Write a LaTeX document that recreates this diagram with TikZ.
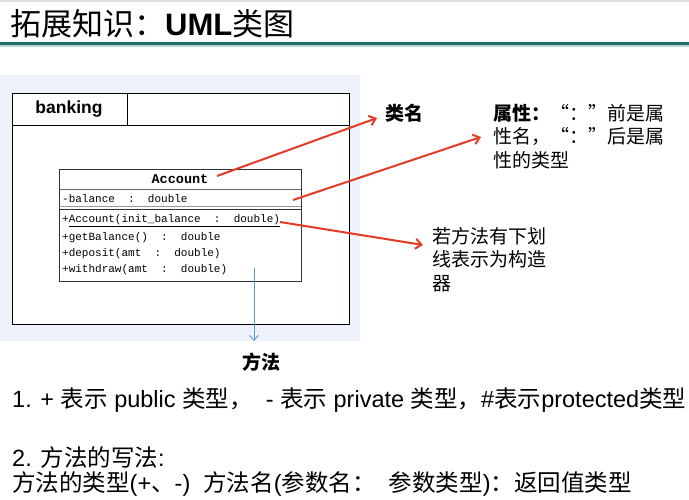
\documentclass[tikz,border=0pt]{standalone}
\usepackage{fontspec}
\usepackage{xcolor}
\usetikzlibrary{arrows.meta}
\setmainfont{Liberation Sans}
\setmonofont{Liberation Mono}
\newfontfamily\zhfont{Noto Sans CJK SC}
\newcommand{\zh}[1]{{\zhfont #1}}
\definecolor{notered}{HTML}{E53A23}
\definecolor{noteblue}{HTML}{5B9BD5}
\definecolor{barteal}{HTML}{1F6F66}
\definecolor{panel}{HTML}{EEF2FA}

\begin{document}
\begin{tikzpicture}[
    x=1pt, y=-1pt,
    note/.style={
        anchor=north west,
        inner sep=0pt,
        align=left,
        font=\zhfont\fontsize{19}{23.5}\selectfont
    },
    member/.style={
        anchor=west,
        inner sep=0pt,
        font=\ttfamily\fontsize{11}{13}\selectfont
    },
    rule/.style={
        anchor=west,
        inner sep=0pt,
        font=\fontsize{23.5}{26}\selectfont
    },
    redarrow/.style={-{Straight Barb[length=6pt,width=10pt]}, line width=2pt, notered},
    bluearrow/.style={-{Straight Barb[length=5pt,width=9pt]}, line width=0.9pt, noteblue}
]

\useasboundingbox (0,0) rectangle (689,500);

% title bar
\fill[gray!25] (0,0) rectangle (689,2);
\node[anchor=west, inner sep=0pt, font=\fontsize{31}{33}\selectfont] (title) at (10,24)
    {\zh{拓展知识：}\textbf{UML}\zh{类图}};
\fill[barteal] (0,42) rectangle (689,45.5);
\fill[barteal!30] (0,45.5) rectangle (689,47);

% diagram panel
\fill[panel] (0,75) rectangle (360,341);

% package
\draw[fill=white, line width=0.8pt] (12,93) rectangle (349,324);
\draw[line width=0.8pt] (12,125) -- (349,125);
\draw[line width=0.8pt] (127,93) -- (127,125);
\node[font=\bfseries\fontsize{17.5}{20}\selectfont] (pkg) at (69,109) {banking};

% class
\draw[line width=0.7pt, black!80] (59,169) rectangle (301,281);
\draw[line width=0.7pt, black!60] (59,189) -- (301,189);
\draw[line width=0.6pt, black!40] (59,206.5) -- (301,206.5);
\draw[line width=0.7pt, black!80] (59,209) -- (301,209);
\node[font=\ttfamily\bfseries\fontsize{13.5}{15}\selectfont] (cls) at (180,179) {Account};
\node[member] (attr) at (62,199) {-balance\ \ :\ \ double};
\node[member] (m1) at (62,221) {+\underline{Account(init\_balance\ \ :\ \ double)}};
\node[member] (m2) at (62,238) {+getBalance()\ \ :\ \ double};
\node[member] (m3) at (62,254) {+deposit(amt\ \ :\ \ double)};
\node[member] (m4) at (62,270) {+withdraw(amt\ \ :\ \ double)};

% notes
\node[note, font=\zhfont\bfseries\fontsize{19}{23.5}\selectfont] (name) at (385,104) {类名};
\node[note, text width=180pt] (attrnote) at (493,104)
    {\textbf{属性：}“：”前是属\\性名，“：”后是属\\性的类型};
\node[note] (ctor) at (432,227) {若方法有下划\\线表示为构造\\器};
\node[font=\zhfont\bfseries\fontsize{19}{22}\selectfont] (meth) at (261,362) {方法};

\coordinate (nameFrom) at (217,176);
\coordinate (nameTo) at (377,118);
\coordinate (attrFrom) at (293,200);
\coordinate (attrTo) at (481,137);
\coordinate (ctorFrom) at (280,222);
\coordinate (ctorTo) at (423,245);
\coordinate (methFrom) at (254,268);
\coordinate (methTo) at (254,341);

\draw[redarrow] (nameFrom) -- (nameTo);
\draw[redarrow] (attrFrom) -- (attrTo);
\draw[redarrow] (ctorFrom) -- (ctorTo);
\draw[bluearrow] (methFrom) -- (methTo);

% rules below
\node[rule] (r1) at (12,400)
    {1. + \zh{表示} public \zh{类型，}\ \ - \zh{表示} private \zh{类型，}\#\zh{表示}protected\zh{类型}};
\node[rule] (r2) at (12,458) {2. \zh{方法的写法}:};
\node[rule] (r3) at (12,484)
    {\zh{方法的类型}(+\zh{、}-)\ \ \zh{方法名}(\zh{参数名：}\ \ \zh{参数类型})\zh{：返回值类型}};

\end{tikzpicture}
\end{document}
